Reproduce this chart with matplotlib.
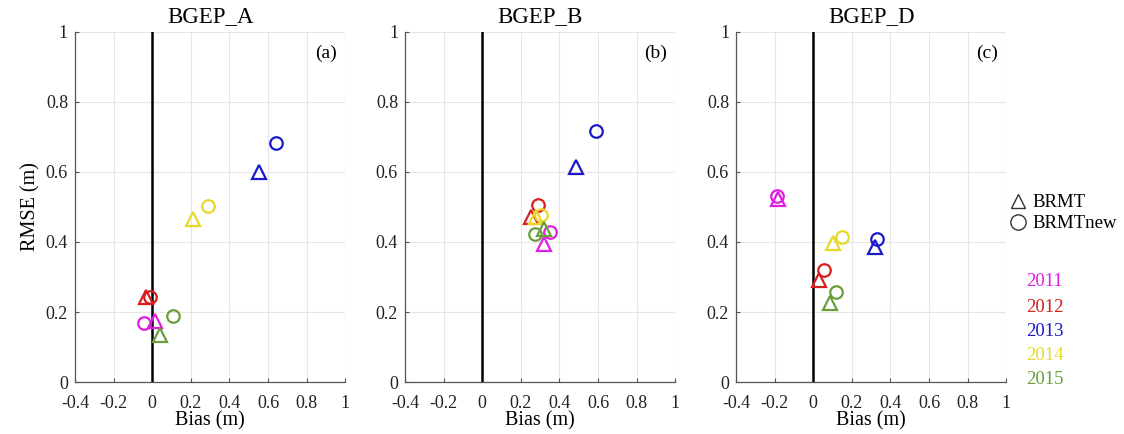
import matplotlib
matplotlib.use("Agg")
import matplotlib.pyplot as plt
from matplotlib.lines import Line2D

plt.rcParams['font.family'] = ['Liberation Serif', 'DejaVu Serif']

years = ['2011', '2012', '2013', '2014', '2015']
colors = ['#e01ee0', '#d81e1e', '#1a1ac8', '#e8d82a', '#6a9e3a']
titles = ['BGEP_A', 'BGEP_B', 'BGEP_D']
panel_labels = ['(a)', '(b)', '(c)']

# Bias / RMSE per year (2011..2015) for BRMT (triangle) and BRMTnew (circle)
bias_brmt = [
    [0.014, -0.030, 0.555, 0.212, 0.038],
    [0.319, 0.255, 0.488, 0.278, 0.319],
    [-0.182, 0.031, 0.318, 0.100, 0.086],
]
rmse_brmt = [
    [0.173, 0.242, 0.600, 0.465, 0.134],
    [0.395, 0.470, 0.614, 0.470, 0.436],
    [0.523, 0.292, 0.387, 0.397, 0.225],
]
bias_new = [
    [-0.042, -0.010, 0.639, 0.288, 0.106],
    [0.350, 0.291, 0.591, 0.302, 0.272],
    [-0.186, 0.057, 0.332, 0.148, 0.120],
]
rmse_new = [
    [0.170, 0.242, 0.684, 0.503, 0.189],
    [0.429, 0.507, 0.716, 0.477, 0.424],
    [0.530, 0.319, 0.408, 0.414, 0.258],
]

xticks = [-0.4, -0.2, 0, 0.2, 0.4, 0.6, 0.8, 1]
xticklabels = ['-0.4', '-0.2', '0', '0.2', '0.4', '0.6', '0.8', '1']
yticks = [0, 0.2, 0.4, 0.6, 0.8, 1]
yticklabels = ['0', '0.2', '0.4', '0.6', '0.8', '1']

fig = plt.figure(figsize=(11.24, 4.34), dpi=100)
lefts = [0.0667, 0.3603, 0.6548]
axes = []
for i in range(3):
    ax = fig.add_axes([lefts[i], 0.1198, 0.2405, 0.8065])
    axes.append(ax)
    ax.axvline(0, color='black', lw=1.8, zorder=2)
    for j in range(5):
        ax.plot(bias_brmt[i][j], rmse_brmt[i][j], marker='^', ms=9.5, mfc='none',
                mec=colors[j], mew=1.6, ls='none', zorder=3)
        ax.plot(bias_new[i][j], rmse_new[i][j], marker='o', ms=9, mfc='none',
                mec=colors[j], mew=1.6, ls='none', zorder=3)
    ax.set_xlim(-0.4, 1)
    ax.set_ylim(0, 1)
    ax.set_xticks(xticks)
    ax.set_xticklabels(xticklabels)
    ax.set_yticks(yticks)
    ax.set_yticklabels(yticklabels)
    ax.grid(True, color='#e6e6e6', lw=0.8)
    ax.set_axisbelow(True)
    for s in ['top', 'right']:
        ax.spines[s].set_visible(False)
    for s in ['left', 'bottom']:
        ax.spines[s].set_color('#555555')
        ax.spines[s].set_linewidth(0.9)
    ax.tick_params(direction='in', length=3, color='#555555', labelsize=13,
                   labelcolor='#222222')
    ax.tick_params(axis='x', pad=9)
    ax.tick_params(axis='y', pad=5)
    ax.set_title(titles[i], fontsize=16.5, pad=7)
    ax.set_xlabel('Bias (m)', fontsize=14.5, labelpad=0)
    ax.text(0.97, 0.965, panel_labels[i], transform=ax.transAxes, ha='right',
            va='top', fontsize=14)

axes[0].set_ylabel('RMSE (m)', fontsize=14.5, labelpad=4)

h1 = Line2D([], [], marker='^', ms=10, mfc='none', mec='#333333', mew=1.0, ls='none')
h2 = Line2D([], [], marker='o', ms=11, mfc='none', mec='#333333', mew=1.0, ls='none')
fig.legend([h1, h2], ['BRMT', 'BRMTnew'], loc='upper left',
           bbox_to_anchor=(0.892, 0.57), frameon=False, fontsize=13.5,
           handlelength=0.8, handletextpad=0.4, labelspacing=0.2, borderaxespad=0)

ys = [0.352, 0.292, 0.237, 0.182, 0.125]
for j in range(5):
    fig.text(0.913, ys[j], years[j], color=colors[j], fontsize=13.5, va='center')

fig.savefig('out.png', dpi=100)
